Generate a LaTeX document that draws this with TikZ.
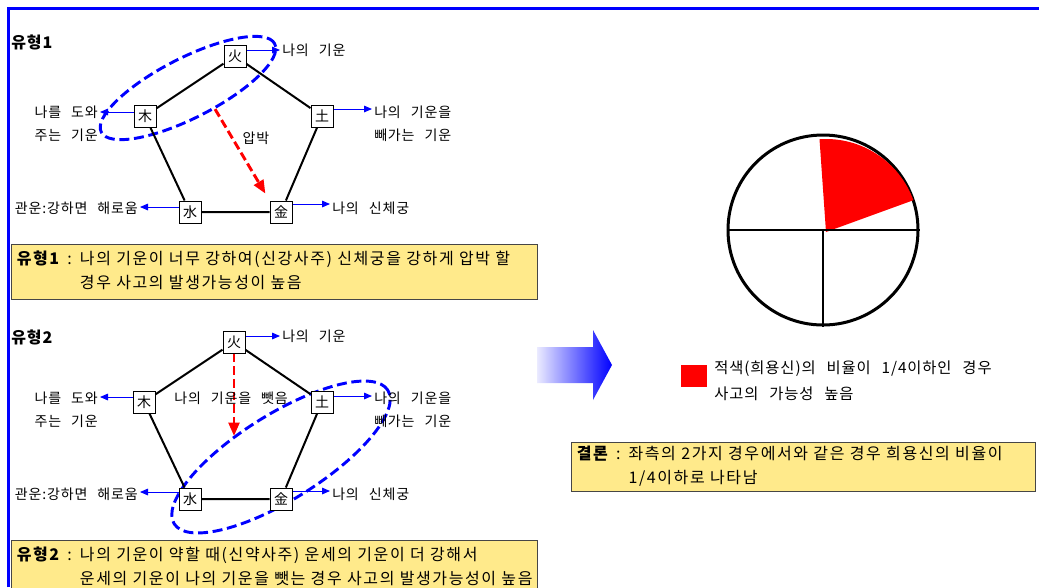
\documentclass[tikz,border=0pt]{standalone}
\usepackage{fontspec}
\setmainfont{Noto Sans CJK KR}[WordSpace=2.5,LetterSpace=6]
\usepackage{tikz}
\usetikzlibrary{arrows.meta,shapes.geometric}
\definecolor{rimblue}{RGB}{0,0,255}
\definecolor{memoyellow}{RGB}{255,234,139}
\definecolor{memoedge}{RGB}{70,70,70}
\tikzset{
  rim/.style={rimblue,line width=2.25pt},
  side/.style={black,line width=1.5pt},
  elem/.style={draw=black,line width=0.75pt,fill=white,minimum width=16.5pt,minimum height=16.5pt,
               inner sep=0pt,font=\fontsize{10.5pt}{10.5pt}\selectfont},
  flow/.style={rimblue,line width=0.75pt,-{Triangle[length=6pt,width=5pt]}},
  press/.style={red,line width=2.2pt,dash pattern=on 6.5pt off 3pt,-{Triangle[length=10pt,width=8pt]}},
  bundle/.style={draw=rimblue,ellipse,line width=2.2pt,dash pattern=on 7.5pt off 3.5pt,inner sep=0pt},
  lab/.style={font=\fontsize{10.5pt}{17pt}\selectfont,inner sep=1.5pt},
  kind/.style={font=\fontsize{12pt}{12pt}\selectfont\bfseries,anchor=west,inner sep=0pt},
  memo/.style={draw=memoedge,line width=0.75pt,fill=memoyellow,anchor=north west,inner xsep=4pt,
               inner ysep=0pt,font=\fontsize{12pt}{18pt}\selectfont\addfontfeature{LetterSpace=10}},
  pie/.style={draw=black,circle,line width=2.25pt,minimum size=142.5pt,inner sep=0pt},
  spoke/.style={black,line width=1.5pt},
}
\begin{document}
\begin{tikzpicture}[x=0.75pt,y=-0.75pt]
  \path[use as bounding box] (0,0) rectangle (1039,587);
  \draw[rim] (8,587) -- (8,8) -- (1039,8);

  \node[kind] (K1) at (11,42) {유형1};
  \node[bundle,rotate=27,minimum width=146pt,minimum height=45pt] (E1) at (188,88) {};
  \node[elem] (H1) at (235,56) {火};
  \node[elem] (M1) at (145,116) {木};
  \node[elem] (T1) at (322,116) {土};
  \node[elem] (S1) at (190,212) {水};
  \node[elem] (G1) at (281,212) {金};
  \draw[side] (H1) -- (T1) -- (G1) -- (S1) -- (M1) -- (H1);
  \node[lab,anchor=west] (H1L) at (280,50) {나의 기운};
  \node[lab,anchor=east,align=right] (M1L) at (100,124) {나를 도와\\주는 기운};
  \node[lab,anchor=west,align=left] (T1L) at (372,124) {나의 기운을\\빼가는 기운};
  \node[lab,anchor=east] (S1L) at (140,208) {관운:강하면 해로움};
  \node[lab,anchor=west] (G1L) at (330,208) {나의 신체궁};
  \draw[flow] ([yshift=4.5pt]H1.east) -- ([yshift=4.5pt]H1.east -| H1L.west);
  \draw[flow] ([yshift=3pt]M1.west) -- ([yshift=3pt]M1.west -| M1L.east);
  \draw[flow] ([yshift=5.25pt]T1.east) -- ([yshift=5.25pt]T1.east -| T1L.west);
  \draw[flow] ([yshift=3.75pt]S1.west) -- ([yshift=3.75pt]S1.west -| S1L.east);
  \draw[flow] ([yshift=6pt]G1.east) -- ([yshift=6pt]G1.east -| G1L.west);
  \draw[press,shorten >=6pt] (E1.-65) -- (G1.north west);
  \node[lab] (P1) at (256,138) {압박};
  \node[memo,minimum width=394.5pt,minimum height=41.25pt,text width=386.5pt] (N1) at (11,244)
    {\begin{tabular}{@{}l@{}l@{}}\textbf{유형1}\hspace{5pt}:\hspace{6pt} & 나의 기운이 너무 강하여(신강사주) 신체궁을 강하게 압박 할\\
     & 경우 사고의 발생가능성이 높음\end{tabular}};

  \node[kind] (K2) at (11,337) {유형2};
  \node[bundle,rotate=32,minimum width=189pt,minimum height=64pt] (E2) at (281,457) {};
  \node[elem] (H2) at (234,342) {火};
  \node[elem] (M2) at (144,402) {木};
  \node[elem] (T2) at (322,402) {土};
  \node[elem] (S2) at (190,499) {水};
  \node[elem] (G2) at (281,499) {金};
  \draw[side] (H2) -- (T2) -- (G2) -- (S2) -- (M2) -- (H2);
  \node[lab,anchor=west] (H2L) at (280,336) {나의 기운};
  \node[lab,anchor=east,align=right] (M2L) at (100,410) {나를 도와\\주는 기운};
  \node[lab,anchor=west,align=left] (T2L) at (372,410) {나의 기운을\\빼가는 기운};
  \node[lab,anchor=east] (S2L) at (140,494) {관운:강하면 해로움};
  \node[lab,anchor=west] (G2L) at (330,494) {나의 신체궁};
  \draw[flow] ([yshift=4.5pt]H2.east) -- ([yshift=4.5pt]H2.east -| H2L.west);
  \draw[flow] ([yshift=3.75pt]M2.west) -- ([yshift=3.75pt]M2.west -| M2L.east);
  \draw[flow] ([yshift=4.5pt]T2.east) -- ([yshift=4.5pt]T2.east -| T2L.west);
  \draw[flow] ([yshift=5.25pt]S2.west) -- ([yshift=5.25pt]S2.west -| S2L.east);
  \draw[flow] ([yshift=6pt]G2.east) -- ([yshift=6pt]G2.east -| G2L.west);
  \coordinate (C2) at (234,436);
  \draw[press] (H2.south) -- (C2);
  \node[lab] (P2) at (231,398) {나의 기운을 뺏음};
  \node[memo,minimum width=394.5pt,minimum height=41.25pt,text width=386.5pt] (N2) at (11,540)
    {\begin{tabular}{@{}l@{}l@{}}\textbf{유형2}\hspace{5pt}:\hspace{6pt} & 나의 기운이 약할 때(신약사주) 운세의 기운이 더 강해서\\
     & 운세의 기운이 나의 기운을 뺏는 경우 사고의 발생가능성이 높음\end{tabular}};

  \shade[left color=blue!8,right color=rimblue] (537,347) -- (593,347) -- (593,330) -- (612,365)
    -- (593,400) -- (593,383) -- (537,383) -- cycle;

  \node[pie] (PIE) at (823,230) {};
  \fill[red] ([shift={(3,2)}]PIE.center) -- ++(-20:93) arc[start angle=-20,end angle=-94,radius=93] -- cycle;
  \draw[spoke] (PIE.west) -- (PIE.east);
  \draw[spoke] (PIE.center) -- (PIE.south);

  \node[fill=red,minimum width=19.5pt,minimum height=16.5pt,inner sep=0pt] (KEY) at (694,376) {};
  \node[lab,anchor=west,align=left,font=\fontsize{11.5pt}{19.5pt}\selectfont] (KEYL) at (712,381)
    {적색(희용신)의 비율이 1/4이하인 경우\\사고의 가능성 높음};
  \node[memo,minimum width=348pt,minimum height=36.75pt,text width=340pt] (N3) at (571,442)
    {\begin{tabular}{@{}l@{}l@{}}\textbf{결론}\hspace{5pt}:\hspace{6pt} & 좌측의 2가지 경우에서와 같은 경우 희용신의 비율이\\
     & 1/4이하로 나타남\end{tabular}};
\end{tikzpicture}
\end{document}
